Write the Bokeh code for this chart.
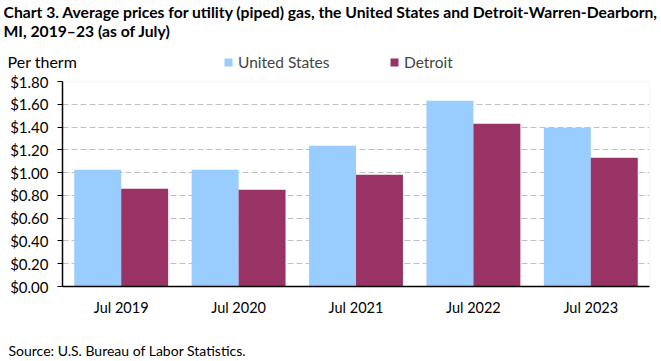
from bokeh.plotting import figure
from bokeh.layouts import column
from bokeh.models import (FactorRange, Range1d, Label, Legend, LegendItem, NumeralTickFormatter,
                          FixedTicker, ColumnDataSource, BoxAnnotation)
from bokeh.transform import dodge
from bokeh.embed import file_html
from bokeh.resources import INLINE

years = ["Jul 2019", "Jul 2020", "Jul 2021", "Jul 2022", "Jul 2023"]
us = [1.026, 1.026, 1.236, 1.631, 1.394]
detroit = [0.859, 0.850, 0.982, 1.429, 1.131]
y_ticks = [0.0, 0.2, 0.4, 0.6, 0.8, 1.0, 1.2, 1.4, 1.6, 1.8]
series_names = ["United States", "Detroit"]
title_lines = ["Chart 3. Average prices for utility (piped) gas, the United States and Detroit-Warren-Dearborn,",
               "MI, 2019\u201323 (as of July)"]
y_title = "Per therm"
source_note = "Source: U.S. Bureau of Labor Statistics."

BLUE = "#99CCFF"
PLUM = "#993366"
FONT = "Lato"
W = 661
HEAD_H = 71

src = ColumnDataSource(dict(year=years, us=us, detroit=detroit))


def blank(height):
    f = figure(width=W, height=height, x_range=FactorRange(factors=years),
               y_range=Range1d(5, 6), output_backend="svg", toolbar_location=None,
               min_border=0, min_border_left=0, min_border_right=0,
               min_border_top=0, min_border_bottom=0)
    f.axis.visible = False
    f.grid.visible = False
    f.outline_line_color = None
    f.frame_align = False
    return f


# ---- header: title, y-axis caption and legend
head = blank(HEAD_H)
for txt, yy in ((title_lines[0], HEAD_H - 11.5), (title_lines[1], HEAD_H - 30.5)):
    head.add_layout(Label(x=3, y=yy, x_units="screen", y_units="screen", text=txt,
                          text_font=FONT, text_font_size="15.7px", text_font_style="bold",
                          text_baseline="middle", text_color="black"))
head.add_layout(Label(x=7, y=HEAD_H - 61, x_units="screen", y_units="screen", text=y_title,
                      text_font=FONT, text_font_size="16px", text_baseline="middle",
                      text_color="black"))
# legend keys: the same bars, sitting below this strip's visible range
k1 = head.vbar(x=dodge("year", -0.2, range=head.x_range), top="us", width=0.4, source=src,
               fill_color=BLUE, line_color=None)
k2 = head.vbar(x=dodge("year", 0.2, range=head.x_range), top="detroit", width=0.4, source=src,
               fill_color=PLUM, line_color=None)
legend = Legend(items=[LegendItem(label=series_names[0], renderers=[k1]),
                       LegendItem(label=series_names[1], renderers=[k2])],
                location=(223, 0), orientation="horizontal",
                glyph_width=10, glyph_height=10, label_standoff=5, spacing=5,
                label_width=146, padding=0, margin=0, border_line_color=None,
                background_fill_alpha=0, label_text_font=FONT,
                label_text_font_size="15.5px", label_height=10)
head.add_layout(legend, "center")

# ---- main chart
p = figure(width=W, height=258, x_range=FactorRange(factors=years, range_padding=0),
           y_range=Range1d(0, 1.8), output_backend="svg", toolbar_location=None,
           min_border_left=62, min_border_right=12, min_border_top=10, min_border_bottom=43)
p.frame_align = False

p.vbar(x=dodge("year", -0.2, range=p.x_range), top="us", width=0.4, source=src,
       fill_color=BLUE, line_color=None)
p.vbar(x=dodge("year", 0.2, range=p.x_range), top="detroit", width=0.4, source=src,
       fill_color=PLUM, line_color=None)

p.outline_line_color = None
p.add_layout(BoxAnnotation(bottom=0, top=1.8, fill_alpha=0, line_color="#BFBFBF",
                           line_width=1, level="underlay"))

p.xgrid.grid_line_color = None
p.ygrid.grid_line_color = "#BFBFBF"
p.ygrid.grid_line_dash = "6 3"
p.ygrid.grid_line_width = 1

p.yaxis.ticker = FixedTicker(ticks=y_ticks)
p.yaxis.formatter = NumeralTickFormatter(format="$0.00")
p.yaxis.axis_line_color = "black"
p.yaxis.axis_line_width = 1.5
p.yaxis.major_tick_out = 5
p.yaxis.major_tick_in = 0
p.yaxis.minor_tick_line_color = None
p.yaxis.major_tick_line_color = "black"
p.yaxis.major_label_standoff = 9
p.yaxis.major_label_text_font = FONT
p.yaxis.major_label_text_font_size = "15px"
p.yaxis.major_label_text_color = "black"

p.xaxis.axis_line_color = "black"
p.xaxis.axis_line_width = 1.5
p.xaxis.major_tick_out = 0
p.xaxis.major_tick_in = 0
p.xaxis.major_tick_line_color = None
p.xaxis.minor_tick_line_color = None
p.xaxis.major_label_standoff = 12
p.xaxis.major_label_text_font = FONT
p.xaxis.major_label_text_font_size = "14.5px"
p.xaxis.major_label_text_color = "black"

# ---- footer: source note
foot = blank(32)
foot.add_layout(Label(x=8, y=11, x_units="screen", y_units="screen", text=source_note,
                      text_font=FONT, text_font_size="14px", text_baseline="middle",
                      text_color="black"))

layout = column(head, p, foot, spacing=0)
open("out.html", "w").write(file_html(layout, INLINE))
